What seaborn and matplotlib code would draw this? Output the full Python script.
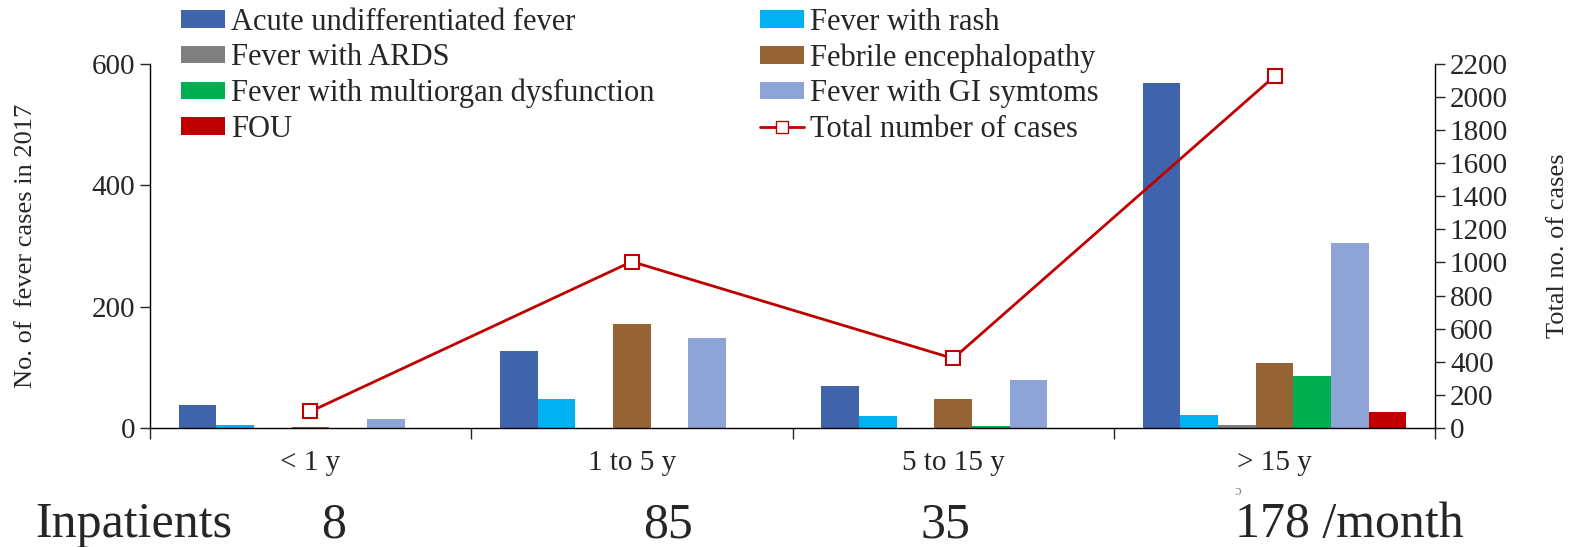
import matplotlib
matplotlib.use("Agg")
import matplotlib.pyplot as plt
import seaborn as sns
import pandas as pd
from matplotlib.patches import Patch
from matplotlib.lines import Line2D

# data
age_groups = ["< 1 y", "1 to 5 y", "5 to 15 y", "> 15 y"]
syndromes = ["Acute undifferentiated fever", "Fever with rash", "Fever with ARDS",
             "Febrile encephalopathy", "Fever with multiorgan dysfunction",
             "Fever with GI symtoms", "FOU"]
acute_fever = [38, 127, 69, 568]
rash = [5, 48, 20, 22]
ards = [0, 0, 0, 5]
encephalopathy = [2, 171, 48, 107]
multiorgan = [0, 0, 3, 85]
gi_symptoms = [15, 149, 79, 305]
fou = [0, 0, 0, 27]
total_cases = [100, 1005, 420, 2125]
inpatients = ["8", "85", "35", "178 /month"]

colors = ["#3F64AB", "#00B0F0", "#808080", "#956334", "#00B050", "#8FA4D6", "#C00000"]

series = [acute_fever, rash, ards, encephalopathy, multiorgan, gi_symptoms, fou]
rows = []
for name, vals in zip(syndromes, series):
    for g, v in zip(age_groups, vals):
        rows.append({"age": g, "syndrome": name, "cases": v})
df = pd.DataFrame(rows)
df_tot = pd.DataFrame({"age": age_groups, "total": total_cases})

sns.set_style("white")
plt.rcParams["font.family"] = ["Liberation Serif", "DejaVu Serif"]
fs = 21

fig = plt.figure(figsize=(15.93, 5.47), dpi=100)
ax = fig.add_axes([0.094, 0.2175, 0.807, 0.666])

sns.barplot(data=df, x="age", y="cases", hue="syndrome", order=age_groups,
            hue_order=syndromes, palette=colors, width=0.82, ax=ax,
            saturation=1, legend=False, linewidth=0)
ax.set_xlim(-0.5, 3.5)
ax.set_ylim(0, 600)
ax.set_yticks([0, 200, 400, 600])
ax.set_ylabel("No. of  fever cases in 2017", fontsize=19)
ax.yaxis.set_label_coords(-0.088, 0.5)
ax.set_xlabel("")

# category dividers as major ticks, labels on minor ticks
ax.set_xticks([-0.5, 0.5, 1.5, 2.5, 3.5])
ax.set_xticklabels([])
ax.set_xticks([0, 1, 2, 3], minor=True)
ax.set_xticklabels(age_groups, minor=True, fontsize=fs)
ax.tick_params(axis="x", which="major", direction="out", length=8, width=1, bottom=True)
ax.tick_params(axis="x", which="minor", length=0, pad=16)
ax.tick_params(axis="y", direction="out", length=7, width=1, left=True, labelsize=fs)

ax2 = ax.twinx()
sns.lineplot(data=df_tot, x="age", y="total", ax=ax2, color="#C00000", lw=2,
             marker="s", markersize=10, markerfacecolor="white",
             markeredgecolor="#C00000", markeredgewidth=1.5, sort=False)
ax2.set_ylim(0, 2200)
ax2.set_yticks(range(0, 2201, 200))
ax2.set_ylabel("Total no. of cases", fontsize=19, labelpad=28)
ax2.tick_params(axis="y", direction="out", length=7, width=1, right=True, labelsize=fs)
ax2.set_xlim(-0.5, 3.5)

for a in (ax, ax2):
    a.spines["top"].set_visible(False)
    for s in ("left", "right", "bottom"):
        a.spines[s].set_color("black")
        a.spines[s].set_linewidth(1)
ax.spines["right"].set_visible(False)
ax2.spines["left"].set_visible(False)
ax2.spines["bottom"].set_visible(False)

# legend, two separate columns
handles = [Patch(facecolor=c, edgecolor="none") for c in colors]
line_h = Line2D([], [], color="#C00000", lw=2, marker="s", markersize=9,
                markerfacecolor="white", markeredgecolor="#C00000")
leg_kw = dict(loc="upper left", frameon=False, fontsize=22, handlelength=1.45,
              handleheight=0.5, handletextpad=0.2, labelspacing=0.21,
              borderpad=0, borderaxespad=0)
col1 = [0, 2, 4, 6]
col2 = [1, 3, 5]
leg1 = fig.legend([handles[i] for i in col1], [syndromes[i] for i in col1],
                  bbox_to_anchor=(181 / 1593, 1 - 8 / 547), **leg_kw)
leg2 = fig.legend([handles[i] for i in col2] + [line_h],
                  [syndromes[i] for i in col2] + ["Total number of cases"],
                  bbox_to_anchor=(760 / 1593, 1 - 8 / 547), **leg_kw)

# inpatients row below the axis
fig.text(0.022, 0.018, "Inpatients", fontsize=36)
xpos = [0.2015, 0.404, 0.578, 0.775]
for x, t in zip(xpos, inpatients):
    fig.text(x, 0.018, t, fontsize=36)
fig.text(0.775, 0.102, "ɔ", fontsize=11, color="#888888", va="center")

fig.savefig("out.png", dpi=100)
